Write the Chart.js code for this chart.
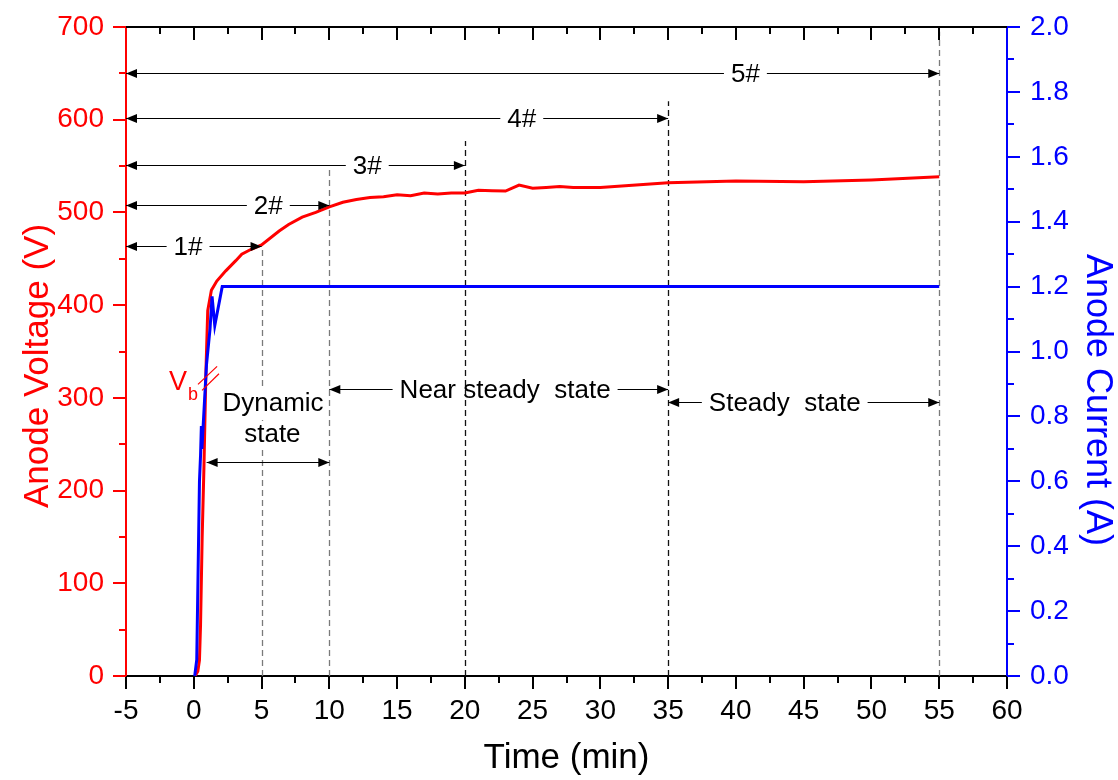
<!DOCTYPE html>
<html>
<head>
<meta charset="utf-8">
<script src="https://cdn.jsdelivr.net/npm/chart.js@4.4.0/dist/chart.umd.min.js"></script>
<style>
html,body{margin:0;padding:0;background:#fff;}
#wrap{width:1118px;height:780px;}
</style>
</head>
<body>
<div id="wrap"><canvas id="c" width="1118" height="780"></canvas></div>
<script>
// ---- data ----
const timeVoltage = [0.1,0.3,0.42,0.5,0.62,0.75,0.9,1.03,1.3,1.7,2.36,3.1,3.54,4.2,5,6.3,7,8,9,10,11,12,13,14,15,16,17,18,19,20,21,22,23,24,25,26,27,28,30,35,40,45,50,55];
const anodeVoltage = [0,5,17,55,150,225,330,394,416,426,437,448,455,460,465,480,487,495,500,506,511,514,516,517,519,518,521,520,521,521,524,523.5,523,529.5,526,527,528,527,527,532,534,533,535,538.5];
const timeCurrent = [0.07,0.22,0.42,0.5,0.56,0.6,0.94,1.2,1.35,1.55,2.1,55];
const anodeCurrent = [0,0.05,0.60,0.68,0.77,0.70,0.96,1.07,1.17,1.08,1.2,1.2];
const xTickStep = 5, yTickStep = 100, y1TickStep = 0.2;
const xTitle = 'Time (min)', yTitle = 'Anode Voltage (V)', y1Title = 'Anode Current (A)';

// annotation definitions (data units)
const stageMarks = [5,10,20,35,55];
const stageMarkTops = [464,547,577,620,695];
const stageMarkDark = [false,false,true,true,false];
const stageLabels = ['1#','2#','3#','4#','5#'];
const stageLevels = [464,508,551,602,650];
const stageLabelAt = [-0.42,5.5,12.8,24.2,40.7];

const F = '"Liberation Sans", Arial, Helvetica, sans-serif';

function arrowHead(ctx, x, y, dir){
  ctx.beginPath();
  ctx.moveTo(x, y);
  ctx.lineTo(x - dir*11, y - 4.5);
  ctx.lineTo(x - dir*11, y + 4.5);
  ctx.closePath();
  ctx.fill();
}
function hLine(ctx, x1, x2, y){
  ctx.beginPath(); ctx.moveTo(x1, y); ctx.lineTo(x2, y); ctx.stroke();
}
function textBg(ctx, txt, x, y, font, color){
  ctx.font = font;
  const w = ctx.measureText(txt).width;
  ctx.fillStyle = '#fff';
  ctx.fillRect(x - w/2 - 2, y - 14, w + 4, 28);
  ctx.fillStyle = color;
  ctx.textAlign = 'center';
  ctx.textBaseline = 'middle';
  ctx.fillText(txt, x, y);
  return w;
}
function labeledArrow(ctx, xa, xb, y, xl, label){
  ctx.font = '26px ' + F;
  const w = ctx.measureText(label).width;
  const gap = w/2 + 7;
  ctx.strokeStyle = '#000'; ctx.fillStyle = '#000'; ctx.lineWidth = 1.2; ctx.setLineDash([]);
  hLine(ctx, xa, xl - gap, y);
  hLine(ctx, xl + gap, xb, y);
  arrowHead(ctx, xa, y, -1);
  arrowHead(ctx, xb, y, 1);
  ctx.textAlign = 'center'; ctx.textBaseline = 'middle';
  ctx.fillText(label, xl, y + 1);
}
function rotText(ctx, txt, x, y, ang, font, color){
  ctx.save();
  ctx.translate(x, y);
  ctx.rotate(ang);
  ctx.font = font; ctx.fillStyle = color;
  ctx.textAlign = 'center'; ctx.textBaseline = 'middle';
  ctx.fillText(txt, 0, 0);
  ctx.restore();
}

const marksPlugin = {
  id: 'marks',
  beforeDatasetsDraw(chart){
    const {ctx, scales:{x, y}} = chart;
    ctx.save();
    ctx.lineWidth = 1.3;
    ctx.setLineDash([6,4]);
    stageMarks.forEach((t,i)=>{
      ctx.strokeStyle = stageMarkDark[i] ? '#111' : '#7a7a7a';
      const xp = Math.round(x.getPixelForValue(t)) + 0.5;
      ctx.beginPath();
      ctx.moveTo(xp, y.getPixelForValue(0));
      ctx.lineTo(xp, y.getPixelForValue(stageMarkTops[i]));
      ctx.stroke();
    });
    ctx.restore();
  },
  afterDatasetsDraw(chart){
    const {ctx, scales:{x, y}} = chart;
    ctx.save();
    stageLabels.forEach((lab,i)=>{
      labeledArrow(ctx, x.getPixelForValue(-5), x.getPixelForValue(stageMarks[i]),
        Math.round(y.getPixelForValue(stageLevels[i])) + 0.5, x.getPixelForValue(stageLabelAt[i]), lab);
    });
    ctx.strokeStyle = '#000'; ctx.fillStyle = '#000'; ctx.lineWidth = 1.2;
    const dy = Math.round(y.getPixelForValue(231)) + 0.5;
    const dx1 = x.getPixelForValue(0.95), dx2 = x.getPixelForValue(10);
    hLine(ctx, dx1, dx2, dy); arrowHead(ctx, dx1, dy, -1); arrowHead(ctx, dx2, dy, 1);
    textBg(ctx, 'Dynamic', x.getPixelForValue(5.85), y.getPixelForValue(294), '26px ' + F, '#000');
    textBg(ctx, 'state', x.getPixelForValue(5.8), y.getPixelForValue(260), '26px ' + F, '#000');
    const ny = Math.round(y.getPixelForValue(310)) + 0.5;
    labeledArrow(ctx, x.getPixelForValue(10), x.getPixelForValue(35), ny, x.getPixelForValue(22.97), 'Near steady  state');
    const sy = Math.round(y.getPixelForValue(295)) + 0.5;
    labeledArrow(ctx, x.getPixelForValue(35), x.getPixelForValue(55), sy, x.getPixelForValue(43.6), 'Steady  state');
    ctx.fillStyle = '#ff0000'; ctx.strokeStyle = '#ff0000'; ctx.lineWidth = 1.2;
    ctx.textAlign = 'center'; ctx.textBaseline = 'middle';
    ctx.font = '27px ' + F;
    ctx.fillText('V', x.getPixelForValue(-1.16), y.getPixelForValue(317));
    ctx.font = '18px ' + F;
    ctx.fillText('b', x.getPixelForValue(-0.06), y.getPixelForValue(303));
    [[0.31,314.5,1.72,334],[0.61,308,1.86,326]].forEach(s=>{
      ctx.beginPath();
      ctx.moveTo(x.getPixelForValue(s[0]), y.getPixelForValue(s[1]));
      ctx.lineTo(x.getPixelForValue(s[2]), y.getPixelForValue(s[3]));
      ctx.stroke();
    });
    ctx.restore();
  },
  afterDraw(chart){
    const {ctx, chartArea:a, scales:{x, y, y1}} = chart;
    ctx.save();
    ctx.lineWidth = 2;
    ctx.strokeStyle = '#000';
    hLine(ctx, a.left - 1, a.right + 1, a.top);
    for (let t = -5; t <= 60.001; t += 2.5){
      const xp = Math.round(x.getPixelForValue(t));
      const major = Math.abs(t/5 - Math.round(t/5)) < 1e-6;
      const L = major ? 13 : 7;
      ctx.beginPath(); ctx.moveTo(xp, a.bottom); ctx.lineTo(xp, a.bottom + L); ctx.stroke();
      if (t > -5 && t < 60) { ctx.beginPath(); ctx.moveTo(xp, a.top); ctx.lineTo(xp, a.top + L); ctx.stroke(); }
    }
    ctx.strokeStyle = '#ff0000';
    for (let v = 0; v <= 700.001; v += 50){
      const yp = Math.round(y.getPixelForValue(v));
      const L = (v % 100 === 0) ? 13 : 7;
      ctx.beginPath(); ctx.moveTo(a.left, yp); ctx.lineTo(a.left - L, yp); ctx.stroke();
    }
    ctx.strokeStyle = '#0000ff';
    for (let k = 0; k <= 20; k++){
      const yp = Math.round(y1.getPixelForValue(k/10));
      const L = (k % 2 === 0) ? 13 : 7;
      ctx.beginPath(); ctx.moveTo(a.right, yp); ctx.lineTo(a.right + L, yp); ctx.stroke();
    }
    // axis titles (placed as in the reference)
    rotText(ctx, yTitle, 38, 366, -Math.PI/2, '35px ' + F, '#ff0000');
    rotText(ctx, y1Title, 1097, 400, Math.PI/2, '36px ' + F, '#0000ff');
    ctx.restore();
  }
};

const ctx = document.getElementById('c').getContext('2d');
new Chart(ctx, {
  type: 'line',
  data: {
    datasets: [
      {
        label: 'Anode Current',
        data: timeCurrent.map((t,i)=>({x:t, y:anodeCurrent[i]})),
        yAxisID: 'y1',
        borderColor: '#0000ff',
        borderWidth: 3,
        pointRadius: 0,
        tension: 0,
        fill: false,
        order: 1
      },
      {
        label: 'Anode Voltage',
        data: timeVoltage.map((t,i)=>({x:t, y:anodeVoltage[i]})),
        yAxisID: 'y',
        borderColor: '#ff0000',
        borderWidth: 3,
        pointRadius: 0,
        tension: 0,
        fill: false,
        order: 2
      }
    ]
  },
  options: {
    responsive: false,
    devicePixelRatio: 1,
    animation: false,
    layout: { padding: { top: 27, left: 0, right: 0, bottom: 0 } },
    plugins: { legend: { display: false }, tooltip: { enabled: false } },
    scales: {
      x: {
        type: 'linear', position: 'bottom', min: -5, max: 60,
        ticks: { stepSize: xTickStep, color: '#000', font: { size: 28, family: F }, padding: 5, maxRotation: 0, autoSkip: false },
        grid: { display: false, drawTicks: true, tickLength: 13 },
        border: { display: true, color: '#000', width: 2 },
        title: { display: true, text: xTitle, color: '#000', font: { size: 35, family: F }, padding: { top: 0, bottom: 1 } },
        afterFit(s){ s.height = 104; }
      },
      y: {
        type: 'linear', position: 'left', min: 0, max: 700,
        ticks: { stepSize: yTickStep, color: '#ff0000', font: { size: 28, family: F }, padding: 9 },
        grid: { display: false, drawTicks: true, tickLength: 13 },
        border: { display: true, color: '#ff0000', width: 2 },
        title: { display: false },
        afterFit(s){ s.width = 126; }
      },
      y1: {
        type: 'linear', position: 'right', min: 0, max: 2,
        ticks: { stepSize: y1TickStep, color: '#0000ff', font: { size: 28, family: F }, padding: 10, callback: v => Number(v).toFixed(1) },
        grid: { display: false, drawTicks: true, tickLength: 13 },
        border: { display: true, color: '#0000ff', width: 2 },
        title: { display: false },
        afterFit(s){ s.width = 111; }
      }
    }
  },
  plugins: [marksPlugin]
});
</script>
</body>
</html>
